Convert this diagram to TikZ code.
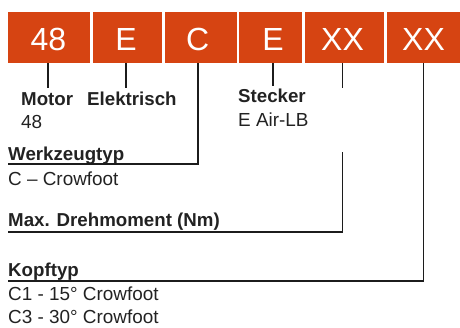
\documentclass[tikz,border=0pt]{standalone}
\usepackage{fontspec}
\setmainfont{Liberation Sans}
\definecolor{boxorange}{RGB}{214,68,18}
\definecolor{lineblack}{RGB}{28,28,28}
\definecolor{textgray}{RGB}{34,34,34}
\begin{document}
\begin{tikzpicture}[x=1pt,y=-1pt,
  codebox/.style={fill=boxorange, draw=none, inner sep=0pt, anchor=north west},
  codetext/.style={text=white, font=\fontsize{32}{32}\selectfont, anchor=base, inner sep=0pt},
  headtext/.style={font=\fontsize{18.7}{20}\selectfont\bfseries, anchor=base west, inner sep=0pt, text=textgray},
  bodytext/.style={font=\fontsize{18.9}{20}\selectfont, anchor=base west, inner sep=0pt, text=textgray},
  conn/.style={draw=lineblack, line width=1.9pt}]
\useasboundingbox (0,0) rectangle (460,327);
% boxes
\node[codebox, minimum width=82pt, minimum height=51pt] (b1) at (8,12) {};
\node[codebox, minimum width=69pt, minimum height=51pt] (b2) at (93,12) {};
\node[codebox, minimum width=72pt, minimum height=51pt] (b3) at (165,12) {};
\node[codebox, minimum width=63pt, minimum height=51pt] (b4) at (239,12) {};
\node[codebox, minimum width=79pt, minimum height=51pt] (b5) at (305,12) {};
\node[codebox, minimum width=73pt, minimum height=51pt] (b6) at (387,12) {};
% box letters
\node[codetext] (l1) at (48.3,50) {48};
\node[codetext] (l2) at (126,50) {E};
\node[codetext] (l3) at (197.7,50) {C};
\node[codetext] (l4) at (273,50) {E};
\node[codetext] (l5) at (342.5,50) {XX};
\node[codetext] (l6) at (423.5,50) {XX};
% labels
\node[headtext] (motor) at (21,105) {Motor};
\node[bodytext] (motorv) at (21,128) {48};
\node[headtext] (elek) at (87,105) {Elektrisch};
\node[headtext] (steck) at (238,102) {Stecker};
\node[bodytext] (steckv) at (238,126) {E Air-LB};
\node[headtext] (werk) at (8,160) {Werkzeugtyp};
\node[bodytext] (werkv) at (8,185) {C -- Crowfoot};
\node[headtext] (max) at (8,226) {Max. Drehmoment (Nm)};
\node[headtext] (kopf) at (8,276) {Kopftyp};
\node[bodytext] (kopf1) at (8,300) {C1 - 15° Crowfoot};
\node[bodytext] (kopf3) at (8,323) {C3 - 30° Crowfoot};
% connector ends
\coordinate (e1) at (48.3,88);
\coordinate (e2) at (126,88);
\coordinate (e3) at (8,164);
\coordinate (e4) at (273,86);
\coordinate (e5) at (342.5,88);
\coordinate (s5) at (342.5,152);
\coordinate (e5b) at (8,232);
\coordinate (e6) at (8,281);
% connectors
\draw[conn] (l1 |- b1.south) -- (e1);
\draw[conn] (l2 |- b2.south) -- (e2);
\draw[conn] (l3 |- b3.south) |- (e3);
\draw[conn] (l4 |- b4.south) -- (e4);
\draw[conn] (l5 |- b5.south) -- (e5);
\draw[conn] (s5) |- (e5b);
\draw[conn] (l6 |- b6.south) |- (e6);
\end{tikzpicture}
\end{document}
